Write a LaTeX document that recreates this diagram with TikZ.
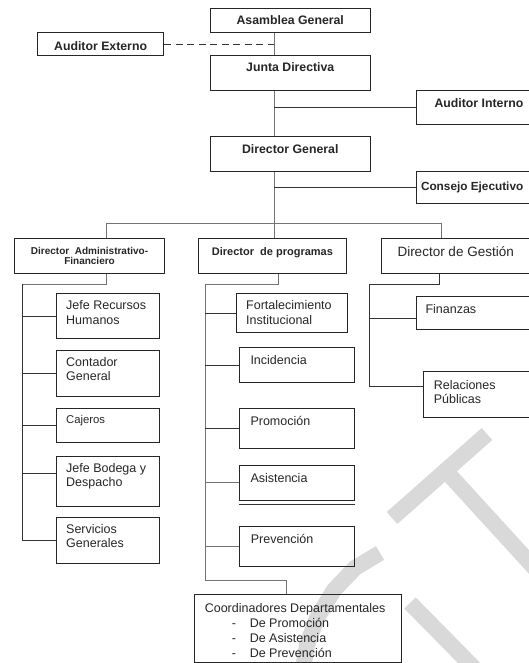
\documentclass[tikz,border=0pt]{standalone}
\usepackage{fontspec}
\setmainfont{Liberation Sans}
\newcommand{\txtc}[4]{\parbox[c][#2pt][t]{#1pt}{\centering\vspace*{#3pt}#4}}
\newcommand{\txtl}[5]{\parbox[c][#2pt][t]{#1pt}{\raggedright\leftskip=#3pt\relax\vspace*{#4pt}#5}}
\begin{document}
\begin{tikzpicture}[x=1pt, y=-1pt,
    box/.style={draw=black!85, line width=1pt, inner sep=0pt,
        anchor=north west, text=black!85},
    bbig/.style={font=\fontsize{12.3}{14}\selectfont\bfseries},
    reg/.style={font=\fontsize{12.5}{14.3}\selectfont},
    link/.style={draw=black!80, line width=1pt},
    glink/.style={draw=black!55, line width=1pt},
    wmark/.style={draw=black!15, line width=16pt}]
    \useasboundingbox (0,0) rectangle (529,663);
    \clip (0,0) rectangle (529,663);

    % watermark
    \draw[wmark] (487,434) -- (392,518);
    \draw[wmark] (445,470) -- (540,574);
    \draw[wmark, line join=round] (380,553) -- (355,568) -- (334,590) -- (317,618) -- (307,645) -- (302,675);
    \draw[wmark] (410,603) -- (478,672);

    \node[box, bbig] (asamblea) at (209.5,8.4) {\txtc{160.5}{23.6}{7}{Asamblea General}};
    \node[box, bbig] (externo) at (37.2,32.1) {\txtc{125.8}{22.9}{8.5}{Auditor Externo}};
    \node[box, bbig] (junta) at (209.5,55) {\txtc{160.5}{35.5}{7.5}{Junta Directiva}};
    \node[box, bbig] (interno) at (415.5,90.5) {\txtl{130}{33.5}{18.5}{8}{Auditor Interno}};
    \node[box, bbig] (general) at (209.5,136) {\txtc{160.5}{34.6}{7.6}{Director General}};
    \node[box, font=\fontsize{11.8}{13}\selectfont\bfseries] (consejo) at (415.5,170.6)
        {\txtl{130}{32.4}{5}{10.5}{Consejo Ejecutivo}};

    \node[box, font=\fontsize{10}{10.3}\selectfont\bfseries] (admin) at (14.2,238.3)
        {\txtc{149.7}{35}{8}{Director\ \ Administrativo-\\Financiero}};
    \node[box, font=\fontsize{11}{12}\selectfont\bfseries] (programas) at (197.6,238.3)
        {\txtc{148.7}{35}{8.5}{Director\ \ de programas}};
    \node[box, font=\fontsize{13.5}{15}\selectfont] (gestion) at (381,238.3)
        {\txtl{160}{35}{16}{7.5}{Director de Gestión}};

    \node[box, reg] (rrhh) at (55.7,293.3) {\txtl{103.6}{45}{10}{7}{Jefe Recursos\\Humanos}};
    \node[box, reg] (contador) at (55.7,350) {\txtl{103.6}{46}{10}{7}{Contador\\General}};
    \node[box, font=\fontsize{11.3}{13}\selectfont] (cajeros) at (55.7,407.7) {\txtl{103.6}{34.6}{10}{7}{Cajeros}};
    \node[box, reg] (bodega) at (55.7,455.7) {\txtl{103.6}{50}{10}{7}{Jefe Bodega y\\Despacho}};
    \node[box, reg] (servicios) at (55.7,516.7) {\txtl{103.6}{46.3}{10}{7}{Servicios\\Generales}};

    \node[box, reg] (fortal) at (235.7,293.3) {\txtl{111}{39}{10}{7}{Fortalecimiento\\Institucional}};
    \node[box, reg] (incid) at (239,347.3) {\txtl{115.3}{35}{11}{7.7}{Incidencia}};
    \node[box, reg] (promo) at (239,408.3) {\txtl{115.3}{39.4}{11}{7.4}{Promoción}};
    \node[box, reg] (asist) at (239,465) {\txtl{115.3}{34.5}{11}{7.7}{Asistencia}};
    \node[box, reg] (prev) at (239.3,526) {\txtl{115}{40}{11}{7.3}{Prevención}};
    \node[box, font=\fontsize{12.5}{15}\selectfont] (coord) at (194.3,594.3)
        {\txtl{206.4}{67.5}{10}{9}{Coordinadores Departamentales\\
        \hspace*{27pt}\makebox[18pt][l]{-}De Promoción\\
        \hspace*{27pt}\makebox[18pt][l]{-}De Asistencia\\
        \hspace*{27pt}\makebox[18pt][l]{-}De Prevención}};

    \node[box, reg] (finanzas) at (415.7,295.7) {\txtl{130}{33.3}{9.3}{8.3}{Finanzas}};
    \node[box, reg] (relaciones) at (423.3,371) {\txtl{125}{45.7}{10}{9}{Relaciones\\Públicas}};

    \draw[link] ([yshift=-3.5pt]asist.south west) -- ([yshift=-3.5pt]asist.south east);

    % top line
    \coordinate (m) at (274,0);
    \draw[glink] (asamblea.south -| m) -- (junta.north -| m);
    \draw[glink] (junta.south -| m) -- (general.north -| m);
    \draw[glink] (general.south -| m) -- (programas.north -| m);
    \draw[link, dash pattern=on 7pt off 4.5pt] (externo.east) -- (externo.east -| m);
    \draw[link] (interno.west) -- (interno.west -| m);
    \draw[link] (consejo.west) -- (consejo.west -| m);

    \coordinate (bl) at (106,223);
    \coordinate (br) at (441,223);
    \draw[glink] (admin.north -| bl) -- (bl) -- (br) -- (gestion.north -| br);

    % administrativo
    \coordinate (a1) at (106,284);
    \coordinate (av) at (22,284);
    \coordinate (bodegal) at ([yshift=8pt]bodega.west);
    \draw[glink] (admin.south -| a1) -- (a1) -- (av);
    \draw[link] (av) |- (servicios.west);
    \draw[link] (av |- rrhh.west) -- (rrhh.west);
    \draw[link] (av |- contador.west) -- (contador.west);
    \draw[link] (av |- cajeros.west) -- (cajeros.west);
    \draw[link] (av |- bodegal) -- (bodegal);

    % programas
    \coordinate (p1) at (278,284);
    \coordinate (pv) at (205,284);
    \coordinate (pc) at (286,580);
    \draw[glink] (programas.south -| p1) -- (p1) -- (pv) |- (pc) -- (coord.north -| pc);
    \draw[link] (pv |- fortal.west) -- (fortal.west);
    \draw[link] (pv |- incid.west) -- (incid.west);
    \draw[link] (pv |- promo.west) -- (promo.west);
    \draw[glink] (pv |- asist.west) -- (asist.west);
    \draw[glink] (pv |- prev.west) -- (prev.west);

    % gestion
    \coordinate (g1) at (439,284);
    \coordinate (gv) at (369,284);
    \coordinate (finanzasl) at ([yshift=-6pt]finanzas.west);
    \coordinate (relacionesl) at ([yshift=8pt]relaciones.west);
    \draw[link] (gestion.south -| g1) -- (g1) -- (gv) |- (relacionesl);
    \draw[link] (gv |- finanzasl) -- (finanzasl);
\end{tikzpicture}
\end{document}
